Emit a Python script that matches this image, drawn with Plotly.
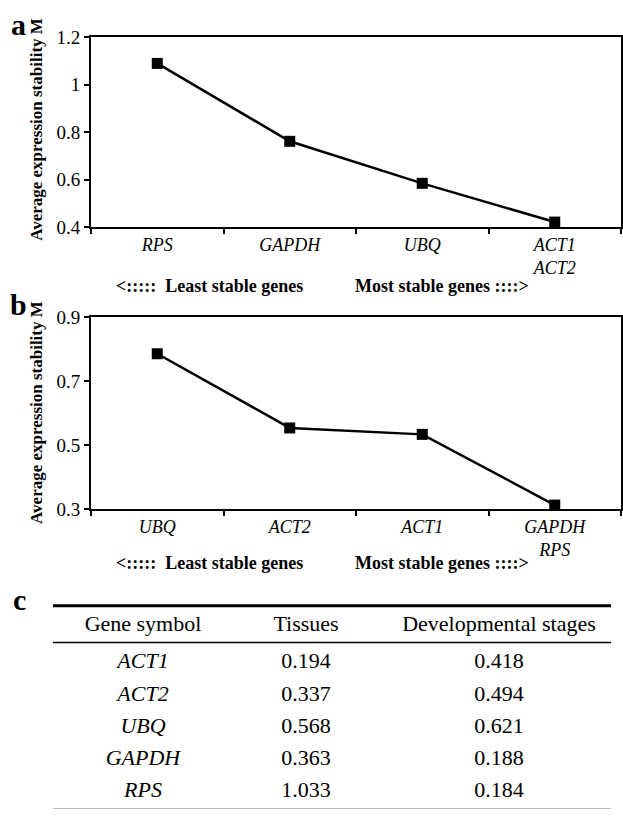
import plotly.graph_objects as go

# ---------------- data ----------------
genes_a = ["RPS", "GAPDH", "UBQ", "ACT1<br>ACT2"]
m_a = [1.09, 0.762, 0.585, 0.422]

genes_b = ["UBQ", "ACT2", "ACT1", "GAPDH<br>RPS"]
m_b = [0.785, 0.553, 0.533, 0.312]

table_header = ["Gene symbol", "Tissues", "Developmental stages"]
table_genes = ["ACT1", "ACT2", "UBQ", "GAPDH", "RPS"]
table_tissues = [0.194, 0.337, 0.568, 0.363, 1.033]
table_stages = [0.418, 0.494, 0.621, 0.188, 0.184]

# ---------------- layout constants ----------------
W, H = 623, 821
FONT = "Liberation Serif, Times New Roman, serif"


def px(x):
    return x / W


def py(y):
    return 1 - y / H


fig = go.Figure()

# panel lines
fig.add_trace(go.Scatter(
    x=genes_a, y=m_a, mode="lines+markers", xaxis="x", yaxis="y",
    line=dict(color="black", width=2.5),
    marker=dict(symbol="square", size=11, color="black"),
    cliponaxis=False, showlegend=False, hoverinfo="skip"))
fig.add_trace(go.Scatter(
    x=genes_b, y=m_b, mode="lines+markers", xaxis="x2", yaxis="y2",
    line=dict(color="black", width=2.5),
    marker=dict(symbol="square", size=11, color="black"),
    cliponaxis=False, showlegend=False, hoverinfo="skip"))

# table (text drawn on its own hidden axes)
col_x = [143, 306, 499]
row_y0, row_dy = 670, 33.0
header_row = (632 - row_y0) / row_dy
rows = list(range(len(table_genes)))
tfont = dict(family=FONT, size=22, color="black")

fig.add_trace(go.Scatter(
    x=col_x, y=[header_row] * 3, text=table_header, mode="text",
    xaxis="x3", yaxis="y3", textfont=tfont,
    showlegend=False, hoverinfo="skip", cliponaxis=False))
fig.add_trace(go.Scatter(
    x=[col_x[0]] * len(rows), y=rows, text=[f"<i>{g}</i>" for g in table_genes],
    mode="text", xaxis="x3", yaxis="y3", textfont=tfont,
    showlegend=False, hoverinfo="skip", cliponaxis=False))
fig.add_trace(go.Scatter(
    x=[col_x[1]] * len(rows), y=rows, text=[f"{v:.3f}" for v in table_tissues],
    mode="text", xaxis="x3", yaxis="y3", textfont=tfont,
    showlegend=False, hoverinfo="skip", cliponaxis=False))
fig.add_trace(go.Scatter(
    x=[col_x[2]] * len(rows), y=rows, text=[f"{v:.3f}" for v in table_stages],
    mode="text", xaxis="x3", yaxis="y3", textfont=tfont,
    showlegend=False, hoverinfo="skip", cliponaxis=False))

axis_common = dict(showline=True, mirror=True, linecolor="black", linewidth=2,
                   showgrid=False, zeroline=False, ticks="outside", ticklen=5,
                   tickwidth=1.5, tickcolor="black")

xa = dict(axis_common, type="category", range=[-0.5, 3.5], tickson="boundaries",
          tickfont=dict(family=FONT, size=18, color="black", style="italic"))
ya = dict(axis_common, tickfont=dict(family=FONT, size=19, color="black"))

fig.update_layout(
    width=W, height=H, margin=dict(l=0, r=0, t=0, b=0),
    paper_bgcolor="white", plot_bgcolor="white",
    font=dict(family=FONT, color="black"),
    xaxis=dict(xa, domain=[px(91), px(621)], anchor="y"),
    yaxis=dict(ya, domain=[py(223), py(28)], range=[0.4, 1.2], dtick=0.2,
               tick0=0.4, anchor="x"),
    xaxis2=dict(xa, domain=[px(91), px(621)], anchor="y2"),
    yaxis2=dict(ya, domain=[py(512), py(315)], range=[0.3, 0.9], dtick=0.2,
                tick0=0.3, anchor="x2"),
    xaxis3=dict(domain=[0, 1], range=[0, W], visible=False, anchor="y3"),
    yaxis3=dict(domain=[0, py(600)], visible=False, anchor="x3",
                range=[(H - row_y0) / row_dy, (600 - row_y0) / row_dy]),
)

ytitle = "<b>Average expression stability M</b>"
ann = [
    dict(text="<b>a</b>", x=px(18), y=py(15)),
    dict(text="<b>b</b>", x=px(18), y=py(302)),
    dict(text="<b>c</b>", x=px(19), y=py(605)),
]
annotations = []
for a in ann:
    annotations.append(dict(a, xref="paper", yref="paper", showarrow=False,
                            xanchor="center", yanchor="middle",
                            font=dict(family=FONT, size=30, color="black")))
for yc in (123, 413.5):
    annotations.append(dict(text=ytitle, x=px(37), y=py(yc), xref="paper", yref="paper",
                            showarrow=False, textangle=-90, xanchor="center",
                            yanchor="middle",
                            font=dict(family=FONT, size=17, color="black")))
for yl in (283, 568):
    annotations.append(dict(text="<b>&lt;::::: &nbsp;Least stable genes</b>",
                            x=px(209), y=py(yl), xref="paper", yref="paper",
                            showarrow=False, xanchor="center", yanchor="middle",
                            font=dict(family=FONT, size=18, color="black")))
    annotations.append(dict(text="<b>Most stable genes ::::&gt;</b>",
                            x=px(442), y=py(yl), xref="paper", yref="paper",
                            showarrow=False, xanchor="center", yanchor="middle",
                            font=dict(family=FONT, size=18, color="black")))
fig.update_layout(annotations=annotations)

# table rules
fig.add_shape(type="line", xref="paper", yref="paper", x0=px(53), x1=px(611),
              y0=py(611.5), y1=py(611.5), line=dict(color="black", width=3))
fig.add_shape(type="line", xref="paper", yref="paper", x0=px(53), x1=px(611),
              y0=py(649), y1=py(649), line=dict(color="black", width=1.5))
fig.add_shape(type="line", xref="paper", yref="paper", x0=px(53), x1=px(611),
              y0=py(819.5), y1=py(819.5), line=dict(color="#bbbbbb", width=1))

fig.write_html("out.html")
